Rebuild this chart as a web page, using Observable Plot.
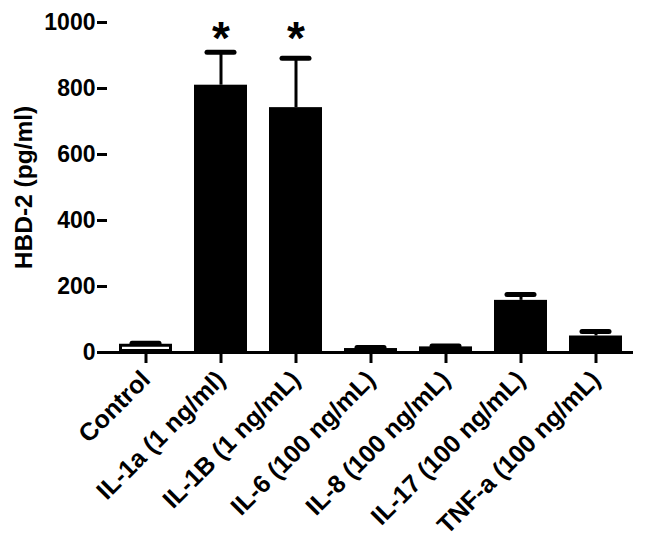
<!DOCTYPE html>
<html><head><meta charset="utf-8">
<script src="https://cdn.jsdelivr.net/npm/d3@7"></script>
<script src="https://cdn.jsdelivr.net/npm/@observablehq/plot@0.6"></script>
<style>
body{margin:0;background:#fff}
g[aria-label="x-axis tick label"] text{font-size:25px}
g[aria-label="y-axis tick label"] text{font-size:23px}
</style>
</head><body><div id="chart"></div>
<script>
const categories = ["Control","IL-1a (1 ng/ml)","IL-1B (1 ng/mL)","IL-6 (100 ng/mL)","IL-8 (100 ng/mL)","IL-17 (100 ng/mL)","TNF-a (100 ng/mL)"];
const means = [25, 810, 742, 12, 17, 158, 50];
const errors = [3, 100, 150, 3, 3, 18, 14];
const fills = ["white","black","black","black","black","black","black"];
const starred = ["IL-1a (1 ng/ml)","IL-1B (1 ng/mL)"];
const starY = 985;
const yTicks = [0, 200, 400, 600, 800, 1000];

const data = categories.map((c, i) => ({cat: c, mean: means[i], top: means[i] + errors[i], fill: fills[i]}));

const chart = Plot.plot({
  width: 645, height: 552,
  marginTop: 22, marginBottom: 200, marginLeft: 107, marginRight: 12,
  style: {fontFamily: "Liberation Sans, Arial, sans-serif", fontWeight: "bold", fontSize: "22px", color: "black", background: "white"},
  x: {domain: categories, paddingInner: 0.3, paddingOuter: 0.15, label: null},
  y: {domain: [0, 1000], label: null},
  marks: [
    Plot.ruleX(data, {x: "cat", y1: "mean", y2: "top", stroke: "black", strokeWidth: 3}),
    Plot.tickY(data, {x: "cat", y: "top", stroke: "black", strokeWidth: 5, strokeLinecap: "round", inset: 13}),
    Plot.barY(data, {x: "cat", y: "mean", fill: "fill", stroke: "black", strokeWidth: 3, inset: 1.5}),
    Plot.ruleY([0], {stroke: "black", strokeWidth: 3}),
    Plot.axisY({ticks: yTicks, tickFormat: d => String(d), tickSize: 10, strokeWidth: 3, line: true, tickPadding: 2}),
    Plot.axisX({tickSize: 11, strokeWidth: 3, tickRotate: -45, tickPadding: 12}),
    Plot.text(starred, {x: d => d, y: () => starY, text: () => "*", fontSize: 46, fontWeight: "bold", lineAnchor: "middle", dy: 12}),
    Plot.text(["HBD-2 (pg/ml)"], {frameAnchor: "left", textAnchor: "middle", dx: -83, rotate: -90, fontSize: 24.5, fontWeight: "bold"})
  ]
});
document.getElementById("chart").appendChild(chart);
</script>
</body></html>
